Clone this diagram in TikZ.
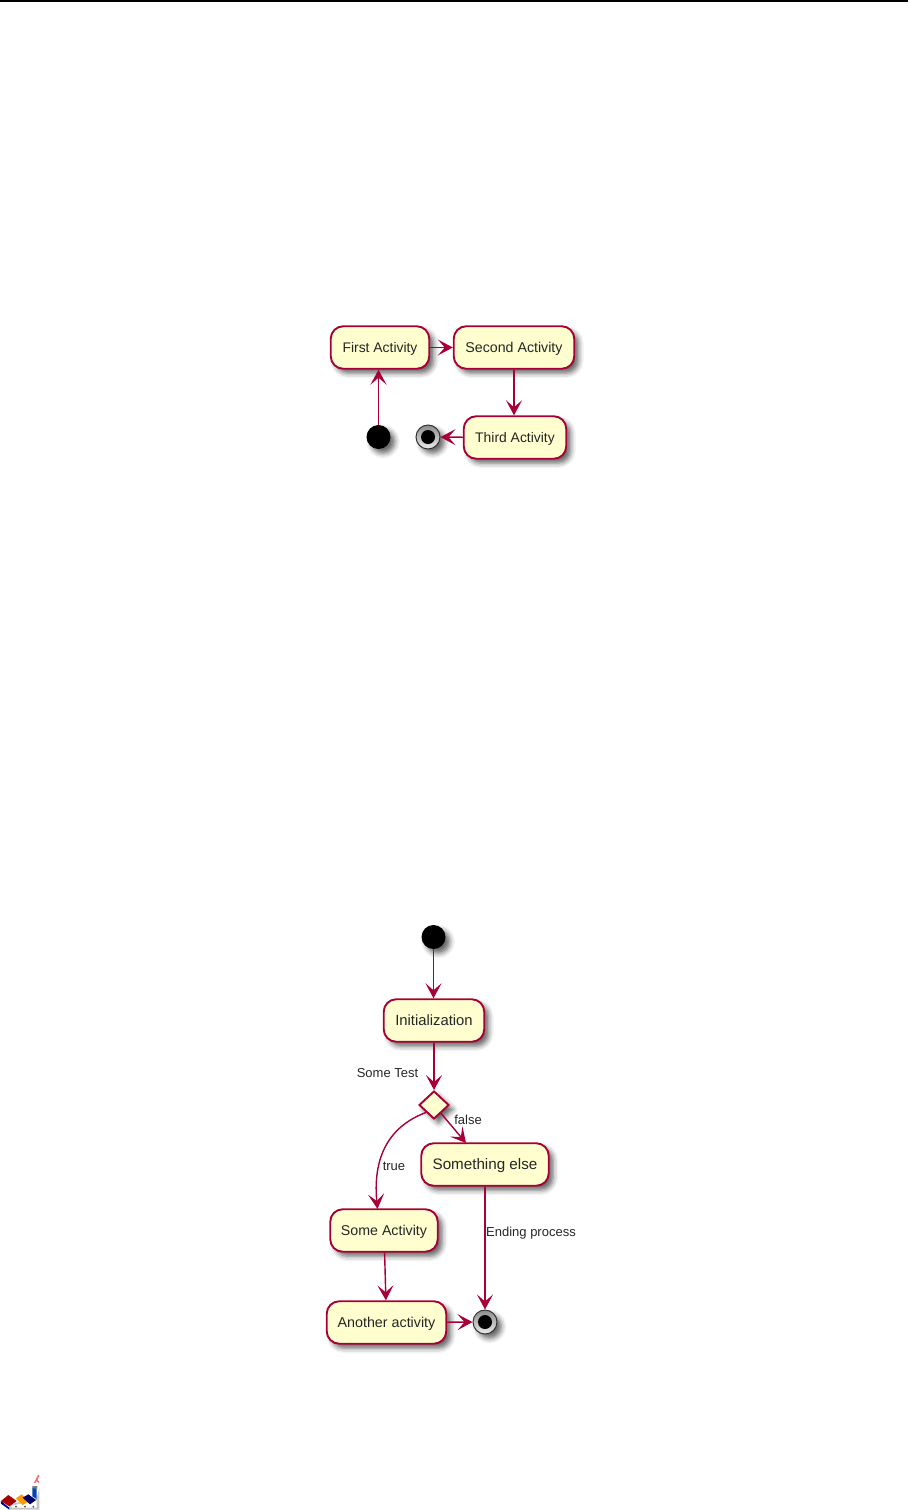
\documentclass[tikz,border=0pt]{standalone}
\usepackage{xcolor}
\usepackage{fontspec}
\setmainfont{Liberation Sans}
\usepackage{tikz}
\usetikzlibrary{arrows.meta,shapes.geometric,shadows.blur}
\definecolor{umlred}{HTML}{A80036}
\definecolor{umlfill}{HTML}{FEFECE}
\tikzset{
  umlshadow/.style={blur shadow={shadow xshift=4.5pt, shadow yshift=-4.5pt,
                    shadow blur radius=5pt, shadow opacity=60}},
  act/.style 2 args={draw=umlred, fill=umlfill, rounded corners=12.5pt, line width=1.9pt,
              minimum height=42.5pt, minimum width=#1pt, inner sep=0pt,
              text height=11.5pt, text depth=2.5pt, text=black!85,
              font=\fontsize{#2pt}{16pt}\selectfont, umlshadow},
  startdot/.style={circle, fill=black, inner sep=0pt, minimum size=24pt, umlshadow},
  enddot/.style={circle, draw=black!80, line width=1pt, top color=gray!90, bottom color=gray!15,
                 inner sep=0pt, minimum size=24pt, umlshadow},
  endcore/.style={circle, fill=black, inner sep=0pt, minimum size=14pt},
  choice/.style={diamond, draw=umlred, fill=umlfill, line width=1.9pt, inner sep=0pt,
                 minimum width=30pt, minimum height=28pt, umlshadow},
  flow/.style={draw=umlred, line width=1.4pt, -{Stealth[length=15pt,width=16pt,inset=7pt]}},
  lbl/.style={font=\fontsize{13pt}{15pt}\selectfont, inner sep=0pt, text=black!85,
              text height=12pt, text depth=2pt},
}
\begin{document}
\begin{tikzpicture}[x=1pt,y=-1pt]
    \useasboundingbox (0,0) rectangle (908,1510);
    \fill[black] (0,0) rectangle (908,1.6);

    \node[act={98.5}{13.9}] (first) at (380,347.5) {First Activity};
    \node[act={120.5}{14.2}] (second) at (514,347.5) {Second Activity};
    \node[act={102.5}{13.9}] (third) at (515,437.5) {Third Activity};
    \node[startdot] (begin1) at (378.5,437) {};
    \node[enddot] (end1) at (428,437) {};
    \node[endcore] (core1) at (end1) {};
    \draw[flow] (begin1) -- (begin1 |- first.south);
    \draw[flow] (first) -- (second);
    \draw[flow] (second) -- (second |- third.north);
    \draw[flow] (third) -- (end1);

    \node[startdot] (begin2) at (433.5,937) {};
    \node[act={100.5}{14.8}] (init) at (434,1020.5) {Initialization};
    \node[choice] (test) at (434,1105) {};
    \node[act={127.5}{15.2}] (other) at (485,1164.5) {Something else};
    \node[act={107.5}{14.2}] (some) at (384,1230.5) {Some Activity};
    \node[act={119.5}{14.3}] (another) at (386.5,1322.5) {Another activity};
    \node[enddot] (end2) at (485,1322) {};
    \node[endcore] (core2) at (end2) {};
    \coordinate (othertop) at (466,1143);
    \coordinate (sometop) at (377.5,1209);
    \draw[flow] (begin2) -- (begin2 |- init.north);
    \draw[flow] (init.south -| test) -- (test.north);
    \draw[flow] (test) -- (othertop);
    \draw[flow] (test.south west) .. controls (395,1124) and (372,1150) .. (sometop);
    \draw[flow] (other.south -| end2) -- (end2);
    \draw[flow] (some) -- (another);
    \draw[flow] (another) -- (end2);

    \node[lbl] (testlbl) at (387.5,1072) {Some Test};
    \node[lbl] (falselbl) at (468,1119) {false};
    \node[lbl] (truelbl) at (394,1165) {true};
    \node[lbl] (endlbl) at (531,1231) {Ending process};

    \begin{scope}[shift={(0,1465)},scale=0.3333]
    \fill[gray!45] (28,118) -- (110,100) -- (118,70) -- (118,134) -- (28,134) -- cycle;
    \fill[white] (34,122) -- (110,106) -- (110,128) -- (34,128) -- cycle;
    \fill[blue!60!black] (3,108) -- (28,128) -- (28,134) -- (3,116) -- cycle;
    \fill[red!65!black] (3,108) -- (25,90) -- (50,108) -- (28,124) -- cycle;
    \fill[orange!80!yellow] (48,100) -- (65,88) -- (88,108) -- (68,120) -- cycle;
    \fill[blue!40!black] (68,98) -- (85,88) -- (108,105) -- (90,118) -- cycle;
    \fill[blue!60!cyan!70!black] (97,68) -- (110,70) -- (110,102) -- (97,94) -- cycle;
    \fill[gray] (97,63) -- (112,63) -- (112,71) -- (97,70) -- cycle;
    \draw[red!60,line width=1.4pt] (104,54) -- (116,30) -- (110,46) -- (117,52);
    \fill[gray!60!black] (48,125) circle (3) (75,125) circle (3) (100,125) circle (3);
    \end{scope}
  \end{tikzpicture}
\end{document}
